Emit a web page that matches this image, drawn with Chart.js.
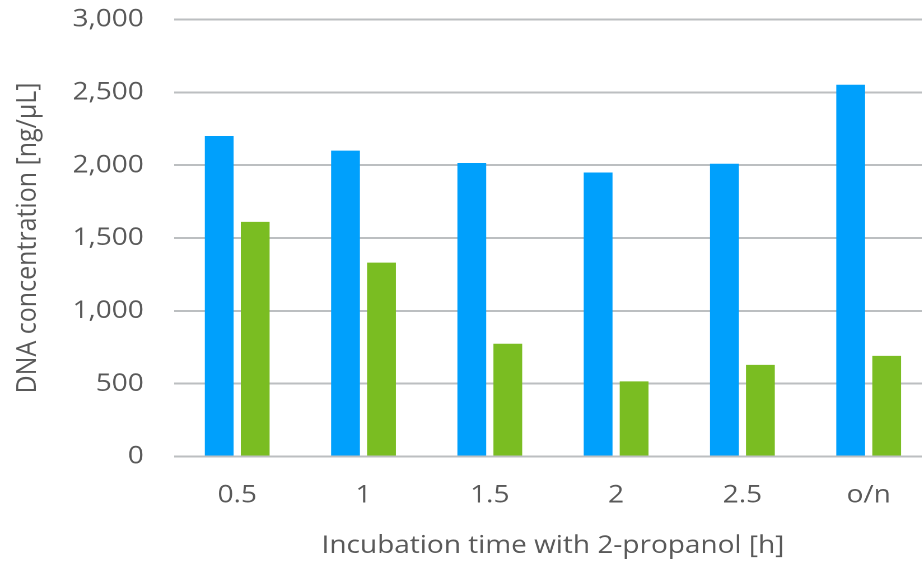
<!DOCTYPE html>
<html>
<head>
<meta charset="utf-8">
<script src="https://cdn.jsdelivr.net/npm/chart.js@4/dist/chart.umd.min.js"></script>
<style>
  html, body { margin: 0; padding: 0; background: #ffffff; overflow: hidden; width: 922px; height: 563px; }
  /* the chart is drawn a little narrow and widened horizontally */
  #wrap { width: 832px; height: 563px; position: relative; transform: scaleX(1.12); transform-origin: 0 0; }
</style>
</head>
<body>
<div id="wrap"><canvas id="c"></canvas></div>
<script>
// Incubation times (x categories)
const categories = ['0.5', '1', '1.5', '2', '2.5', 'o/n'];
// DNA concentration, ng/µL
const seriesBlue = [2200, 2100, 2015, 1950, 2010, 2552];
const seriesGreen = [1611, 1331, 774, 516, 629, 691];
// Y axis range and step
const yMin = 0, yMax = 3000, yStep = 500;

const tickColor = '#595959';
const gridColor = '#bcbfc1';
const fontFamily = '"Open Sans", "Noto Sans", sans-serif';
const fontSize = 25;

new Chart(document.getElementById('c'), {
  type: 'bar',
  data: {
    labels: categories,
    datasets: [
      { data: seriesBlue, backgroundColor: '#00a0fc', borderWidth: 0,
        categoryPercentage: 0.57, barPercentage: 0.8 },
      { data: seriesGreen, backgroundColor: '#7abd22', borderWidth: 0,
        categoryPercentage: 0.57, barPercentage: 0.8 }
    ]
  },
  options: {
    responsive: true,
    maintainAspectRatio: false,
    animation: false,
    devicePixelRatio: 2,
    layout: { padding: { top: 19.5, right: 0, bottom: 0, left: 0 } },
    plugins: { legend: { display: false }, tooltip: { enabled: false } },
    scales: {
      x: {
        grid: { display: false },
        border: { display: false },
        ticks: { color: tickColor, font: { family: fontFamily, size: fontSize }, padding: 16, maxRotation: 0 },
        title: { display: true, text: 'Incubation time with 2-propanol [h]', color: tickColor,
                 font: { family: fontFamily, size: fontSize }, padding: { top: 0, bottom: 2 } },
        afterFit: s => { s.height = 106.5; s.paddingLeft = 0; s.paddingRight = 0; }
      },
      y: {
        min: yMin, max: yMax,
        grid: { color: gridColor, lineWidth: 2, drawTicks: false },
        border: { display: false },
        ticks: { stepSize: yStep, color: tickColor, font: { family: fontFamily, size: fontSize }, padding: 27,
                 callback: v => v.toLocaleString('en-US') },
        title: { display: true, text: 'DNA concentration [ng/µL]', color: tickColor,
                 font: { family: fontFamily, size: fontSize }, padding: { top: 10, bottom: 0 } },
        afterFit: s => { s.width = 155.4; s.paddingTop = 0; s.paddingBottom = 0; }
      }
    }
  }
});
</script>
</body>
</html>
